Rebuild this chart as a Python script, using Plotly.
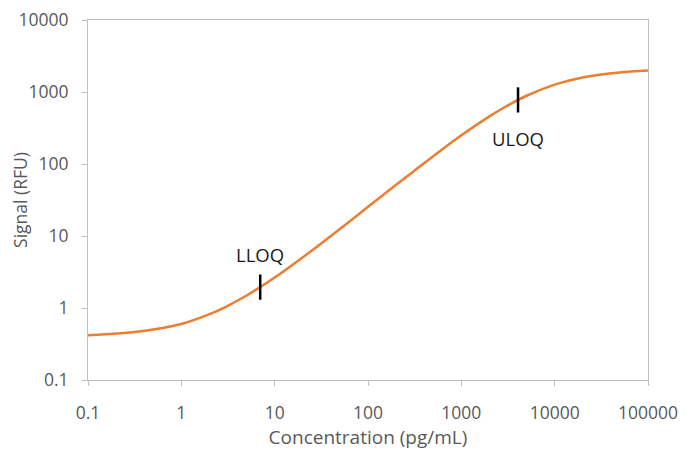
import plotly.graph_objects as go
import math

# Curve (concentration pg/mL -> signal RFU)
conc = [0.1, 0.3, 1, 2, 3, 5, 10, 20, 30, 50, 100, 200, 300, 500, 1000,
        2000, 3000, 5000, 10000, 20000, 30000, 50000, 100000]
signal = [0.42, 0.46, 0.60, 0.82, 1.04, 1.49, 2.65, 5.06, 7.5, 12.5, 25.4,
          51.4, 77, 128, 250, 459, 629, 887, 1265, 1592, 1738, 1872, 1983]

# Quantification limits
loq_labels = ["LLOQ", "ULOQ"]
loq_conc = [7, 4050]
loq_signal = [1.95, 776]
loq_label_signal = [5.6, 229]

x_ticks = [0.1, 1, 10, 100, 1000, 10000, 100000]
x_tick_text = ["0.1", "1", "10", "100", "1000", "10000", "100000"]
y_ticks = [0.1, 1, 10, 100, 1000, 10000]
y_tick_text = ["0.1", "1", "10", "100", "1000", "10000"]

FONT = "Open Sans"
GRAY = "#595959"

fig = go.Figure()
fig.add_trace(go.Scatter(
    x=conc, y=signal, mode="lines",
    line=dict(color="#ED7D31", width=2.5, shape="spline"),
    hoverinfo="skip", showlegend=False,
))
fig.add_trace(go.Scatter(
    x=loq_conc, y=loq_signal, mode="markers",
    marker=dict(symbol="line-ns", size=18, line=dict(color="black", width=2.5)),
    hoverinfo="skip", showlegend=False,
))
for lab, xc, ys in zip(loq_labels, loq_conc, loq_label_signal):
    fig.add_annotation(x=math.log10(xc), y=math.log10(ys), text=lab,
                       showarrow=False, xref="x", yref="y",
                       font=dict(family=FONT, size=18.5, color="#1a1a1a"))

axis_common = dict(
    type="log", showgrid=False, zeroline=False,
    showline=True, linecolor="#BFBFBF", linewidth=1, mirror=True,
    ticks="outside", ticklen=5, tickcolor="#BFBFBF",
    tickfont=dict(family=FONT, size=17.5, color=GRAY),
    ticklabeloverflow="allow",
)
fig.update_xaxes(**axis_common, range=[-1, 5], tickvals=x_ticks, ticktext=x_tick_text,
                 ticklabelstandoff=12,
                 title=dict(text="Concentration (pg/mL)", standoff=7,
                            font=dict(family=FONT, size=19, color=GRAY)))
fig.update_yaxes(**axis_common, range=[-1, 4], tickvals=y_ticks, ticktext=y_tick_text,
                 ticklabelstandoff=10,
                 title=dict(text="Signal (RFU)", standoff=2,
                            font=dict(family=FONT, size=17.5, color=GRAY)))
fig.update_layout(
    width=686, height=458,
    margin=dict(l=80, r=46, t=12, b=86, autoexpand=False),
    paper_bgcolor="white", plot_bgcolor="white",
)
fig.write_html("out.html")
